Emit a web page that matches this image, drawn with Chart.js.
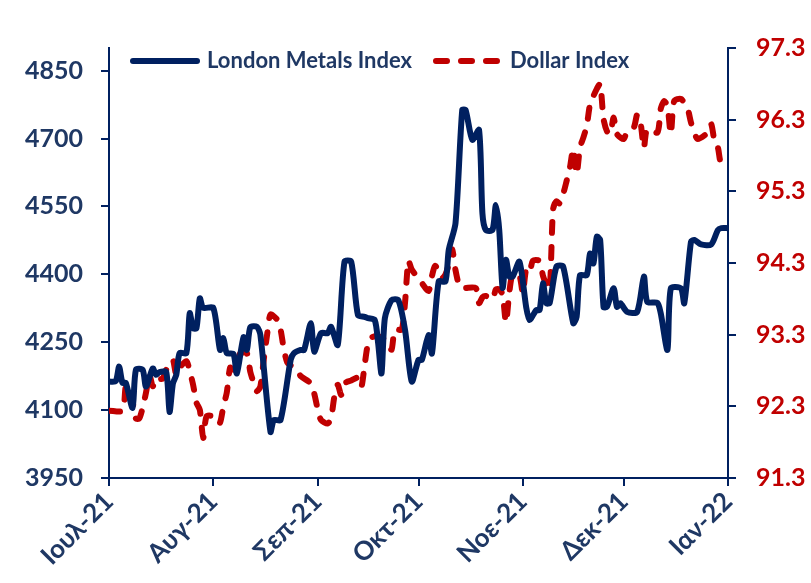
<!DOCTYPE html>
<html>
<head>
<meta charset="utf-8">
<script src="https://cdn.jsdelivr.net/npm/chart.js@4.4.1/dist/chart.umd.min.js"></script>
<style>
  body { margin: 0; background: #fff; }
</style>
</head>
<body>
<canvas id="chart" width="811" height="583"></canvas>
<script>
// x axis: days counted from 1 Jul 2021
const monthDays = [0, 31, 62, 92, 123, 153, 184];
const monthLabels = ["Ιουλ-21", "Αυγ-21", "Σεπ-21", "Οκτ-21", "Νοε-21", "Δεκ-21", "Ιαν-22"];

const leftTicks = [3950, 4100, 4250, 4400, 4550, 4700, 4850];
const rightTicks = [91.3, 92.3, 93.3, 94.3, 95.3, 96.3, 97.3];

// London Metals Index (left axis)
const metalsDays = [0, 2, 3, 4, 5, 7, 8, 10, 11, 13, 14, 15, 17, 18, 19, 20, 21, 23, 24, 25, 26, 27, 28, 31,
  33, 34, 35, 37, 38, 40, 41, 42, 44, 45, 48, 49, 51, 54, 55, 57, 58, 60, 61, 63, 65, 66, 68, 70, 72,
  74, 76, 77, 79, 80, 81, 82, 84, 86, 88, 90, 92, 93, 95, 96, 98, 100, 101, 103, 105, 106, 108, 110,
  111, 112, 114, 115, 116, 117, 118, 119, 120, 122, 124, 125, 127, 128, 129, 130, 131, 133, 135, 138,
  139, 140, 142, 143, 144, 145, 146, 147, 148, 150, 151, 152, 154, 157, 159, 160, 163, 164, 166, 167,
  170, 171, 173, 174, 176, 179, 181, 182, 184];
const metalsValues = [4163, 4164, 4196, 4160, 4160, 4105, 4189, 4189, 4152, 4192, 4178, 4184, 4184, 4096, 4159, 4178, 4226, 4226, 4314, 4281, 4281, 4347, 4326, 4326,
  4233, 4259, 4226, 4224, 4181, 4261, 4233, 4283, 4284, 4266, 4052, 4078, 4078, 4211, 4226, 4233, 4233, 4292, 4229, 4270, 4270, 4284, 4244, 4428, 4428,
  4310, 4306, 4303, 4299, 4248, 4181, 4303, 4343, 4343, 4277, 4163, 4211, 4211, 4266, 4225, 4384, 4384, 4454, 4513, 4763, 4763, 4697, 4719,
  4535, 4498, 4498, 4553, 4498, 4370, 4432, 4395, 4395, 4428, 4328, 4299, 4321, 4321, 4380, 4336, 4337, 4417, 4417, 4292,
  4306, 4398, 4398, 4446, 4424, 4483, 4476, 4328, 4328, 4369, 4328, 4336, 4317, 4317, 4395, 4339, 4337, 4314, 4233, 4369,
  4369, 4336, 4472, 4476, 4466, 4466, 4498, 4502, 4502];

// Dollar Index (right axis)
const dollarDays = [0, 4, 5, 6, 7, 8, 9, 10, 11, 12, 13, 14, 15, 16, 17, 18, 19, 20, 21, 23, 24, 25, 26, 27, 28, 29, 31,
  32, 33, 34, 35, 36, 37, 38, 39, 41, 42, 43, 44, 45, 46, 47, 48, 50, 51, 52, 53, 54, 56, 57, 60, 61, 62, 63,
  65, 66, 67, 68, 69, 70, 72, 74, 75, 76, 77, 78, 80, 82, 83, 84, 85, 87, 88, 89, 90, 93, 95, 96, 97, 99, 100,
  101, 102, 103, 104, 105, 109, 110, 111, 112, 114, 115, 116, 117, 118, 119, 120, 122, 123, 124, 125, 126, 128,
  129, 130, 131, 132, 133, 134, 135, 136, 137, 138, 139, 140, 141, 142, 143, 144, 145, 146, 147, 148, 149, 150,
  151, 153, 154, 156, 157, 158, 159, 160, 163, 164, 165, 166, 167, 168, 170, 172, 173, 174, 175, 178, 179, 180,
  181, 182, 184];
const dollarValues = [92.24, 92.24, 92.58, 92.58, 92.37, 92.13, 92.13, 92.28, 92.49, 92.74, 92.58, 92.70, 92.68, 92.69, 92.81, 92.88, 92.95, 92.74, 92.84, 92.93, 92.79, 92.60, 92.35, 92.25, 91.86, 92.16, 92.16,
  92.07, 92.07, 92.30, 92.49, 92.84, 92.81, 92.86, 93.04, 93.04, 92.78, 92.63, 92.51, 92.58, 92.95, 93.30, 93.58, 93.51, 93.37, 93.09, 92.91, 92.87, 92.81, 92.72, 92.62, 92.48, 92.27, 92.11,
  92.06, 92.13, 92.44, 92.60, 92.46, 92.62, 92.66, 92.70, 92.57, 92.88, 93.18, 93.26, 93.28, 93.23, 93.16, 93.09, 93.37, 93.37, 93.75, 94.33, 94.21, 94.02, 93.91, 94.12, 94.26, 94.09, 94.14,
  94.28, 94.49, 94.20, 94.00, 93.95, 93.95, 93.74, 93.82, 93.84, 93.79, 93.93, 93.93, 93.86, 93.47, 93.89, 94.14, 94.12, 93.88, 94.21, 94.17, 94.33, 94.33,
  94.12, 94.00, 93.93, 95.05, 95.16, 95.13, 95.26, 95.44, 95.63, 95.89, 95.54, 95.91, 96.05, 96.21, 96.52, 96.63, 96.73, 96.80, 96.31, 96.14, 96.10, 96.33,
  96.10, 96.03, 96.14, 96.19, 96.37, 96.26, 95.91, 96.17, 96.12, 96.45, 96.56, 96.49, 96.10, 96.56, 96.59, 96.45, 96.26, 96.12, 96.03, 96.12, 96.24, 96.00,
  95.91, 95.68, 95.68];

const navy = "#002060";
const red = "#C00000";
const labelNavy = "#1F3864";
const fontFamily = "Lato, 'Noto Sans', sans-serif";

function toPoints(days, values) {
  return days.map((d, i) => ({ x: d, y: values[i] }));
}

// legend drawn inside the plot area, like the original
const insideLegend = {
  id: "insideLegend",
  afterDraw(chart) {
    const ctx = chart.ctx;
    const spots = [{ x: 133, text: 207 }, { x: 436, text: 510 }];
    const y = 61;
    ctx.save();
    chart.data.datasets.forEach((ds, i) => {
      const s = spots[i];
      ctx.beginPath();
      ctx.lineWidth = ds.borderWidth;
      ctx.strokeStyle = ds.borderColor;
      ctx.lineCap = "round";
      ctx.setLineDash(ds.borderDash || []);
      ctx.moveTo(s.x, y);
      ctx.lineTo(s.x + 64, y);
      ctx.stroke();
      ctx.setLineDash([]);
      ctx.fillStyle = labelNavy;
      ctx.font = "bold 22px " + fontFamily;
      ctx.textBaseline = "middle";
      ctx.fillText(ds.label, s.text, y);
    });
    ctx.restore();
  }
};

new Chart(document.getElementById("chart").getContext("2d"), {
  type: "line",
  data: {
    datasets: [{
      label: "London Metals Index",
      data: toPoints(metalsDays, metalsValues),
      yAxisID: "y",
      borderColor: navy,
      borderWidth: 6,
      pointRadius: 0,
      tension: 0.25,
      borderJoinStyle: "round"
    }, {
      label: "Dollar Index",
      data: toPoints(dollarDays, dollarValues),
      yAxisID: "y1",
      borderColor: red,
      borderWidth: 6,
      borderDash: [11, 14],
      borderCapStyle: "round",
      pointRadius: 0,
      tension: 0.25
    }]
  },
  options: {
    responsive: false,
    animation: false,
    layout: { padding: { top: 48, left: 0, right: 0, bottom: 0 } },
    plugins: {
      legend: { display: false },
      tooltip: { enabled: false }
    },
    scales: {
      x: {
        type: "linear",
        min: 0,
        max: 184,
        afterBuildTicks: (scale) => { scale.ticks = monthDays.map(v => ({ value: v })); },
        afterFit: (scale) => { scale.height = 105; },
        ticks: {
          callback: (v) => monthLabels[monthDays.indexOf(v)],
          color: labelNavy,
          font: { family: fontFamily, size: 26, weight: "bold" },
          minRotation: 45,
          maxRotation: 45,
          padding: 0,
          autoSkip: false
        },
        grid: { drawOnChartArea: false, drawTicks: true, tickLength: 8, color: navy, lineWidth: 2 },
        border: { display: true, color: navy, width: 2 }
      },
      y: {
        position: "left",
        min: 3950,
        max: 4900,
        afterBuildTicks: (scale) => { scale.ticks = leftTicks.map(v => ({ value: v })); },
        afterFit: (scale) => { scale.width = 109; },
        ticks: {
          callback: (v) => String(v),
          color: labelNavy,
          font: { family: fontFamily, size: 25, weight: "bold" },
          padding: 18
        },
        grid: { drawOnChartArea: false, drawTicks: true, tickLength: 8, color: navy, lineWidth: 2 },
        border: { display: true, color: navy, width: 2 }
      },
      y1: {
        position: "right",
        min: 91.3,
        max: 97.3,
        afterBuildTicks: (scale) => { scale.ticks = rightTicks.map(v => ({ value: v })); },
        afterFit: (scale) => { scale.width = 83; },
        ticks: {
          callback: (v) => v.toFixed(1),
          color: red,
          font: { family: fontFamily, size: 25, weight: "bold" },
          padding: 20
        },
        grid: { drawOnChartArea: false, drawTicks: true, tickLength: 8, color: navy, lineWidth: 2 },
        border: { display: true, color: navy, width: 2 }
      }
    }
  },
  plugins: [insideLegend]
});
</script>
</body>
</html>
